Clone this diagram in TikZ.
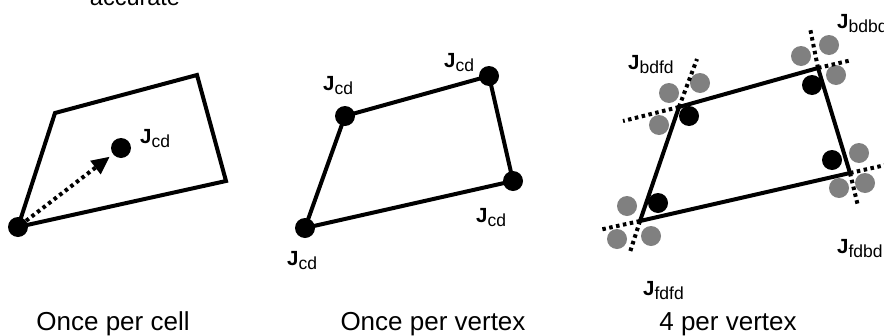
\documentclass[tikz,border=0pt]{standalone}
\usepackage{fontspec}
\setmainfont{Liberation Sans}
\usetikzlibrary{arrows.meta}
\newcommand\Jlab[1]{{\fontsize{20.5}{20.5}\selectfont\bfseries J}\raisebox{-4pt}{\fontsize{17.5}{17.5}\selectfont #1}}
\definecolor{dotgray}{RGB}{128,128,128}
\tikzset{
  bdot/.style={circle,fill=black,minimum size=20pt,inner sep=0pt},
  gdot/.style={circle,fill=dotgray,minimum size=20pt,inner sep=0pt},
  edge/.style={line width=4pt,line join=miter},
  dotline/.style={line width=4pt,dash pattern=on 3.5pt off 3.5pt},
  jlab/.style={anchor=base west,inner sep=0pt},
  caption/.style={anchor=base,inner sep=0pt,font=\fontsize{26}{26}\selectfont},
}
\begin{document}
\begin{tikzpicture}[x=1pt,y=-1pt]
\useasboundingbox (0,0) rectangle (884,335);

% ---------- panel 1 ----------
\node[anchor=base,inner sep=0pt,font=\fontsize{23.5}{23.5}\selectfont] (acc) at (135,5) {accurate};
\coordinate (a1) at (18,227);
\coordinate (a2) at (55,113);
\coordinate (a3) at (197,75);
\coordinate (a4) at (226,181);
\draw[edge] (a1) -- (a2) -- (a3) -- (a4) -- cycle;
\node[bdot] (a1d) at (a1) {};
\node[bdot] (ac) at (121,148) {};
\draw[dotline,-{Triangle[length=18pt,width=16pt]},shorten >=4pt] (a1d) -- (ac);
\node[jlab] (acl) at (140,143) {\Jlab{cd}};
\node[caption] (cap1) at (113,330) {Once per cell};

% ---------- panel 2 ----------
\coordinate (b1) at (305,228);
\coordinate (b2) at (345,116);
\coordinate (b3) at (489,76);
\coordinate (b4) at (513,181);
\draw[edge] (b1) -- (b2) -- (b3) -- (b4) -- cycle;
\node[bdot] (b1d) at (b1) {};
\node[bdot] (b2d) at (b2) {};
\node[bdot] (b3d) at (b3) {};
\node[bdot] (b4d) at (b4) {};
\node[jlab] (b1l) at (287,265) {\Jlab{cd}};
\node[jlab] (b2l) at (323,90) {\Jlab{cd}};
\node[jlab] (b3l) at (444,67) {\Jlab{cd}};
\node[jlab] (b4l) at (476,222) {\Jlab{cd}};
\node[caption] (cap2) at (433,330) {Once per vertex};

% ---------- panel 3 ----------
\coordinate (c1) at (640,221);
\coordinate (c2) at (679,107);
\coordinate (c3) at (818,68);
\coordinate (c4) at (850,173);
% gray dots
\node[gdot] (g1a) at (627,206) {};
\node[gdot] (g1b) at (617,239) {};
\node[gdot] (g1c) at (651,236) {};
\node[gdot] (g2a) at (669,93) {};
\node[gdot] (g2b) at (700,83) {};
\node[gdot] (g2c) at (659,125) {};
\node[gdot] (g3a) at (801,56) {};
\node[gdot] (g3b) at (829,45) {};
\node[gdot] (g3c) at (836,75) {};
\node[gdot] (g4a) at (859,153) {};
\node[gdot] (g4b) at (839,188) {};
\node[gdot] (g4c) at (865,183) {};
% dotted extensions
\coordinate (e1a) at (599,230);
\coordinate (e1b) at (630,252);
\coordinate (e2a) at (623,121);
\coordinate (e2b) at (697,59);
\coordinate (e3a) at (810,28);
\coordinate (e3b) at (852,60);
\coordinate (e4a) at (890,164);
\coordinate (e4b) at (858,206);
\draw[dotline] (c1) -- (e1a);
\draw[dotline] (c1) -- (e1b);
\draw[dotline] (c2) -- (e2a);
\draw[dotline] (c2) -- (e2b);
\draw[dotline] (c3) -- (e3a);
\draw[dotline] (c3) -- (e3b);
\draw[dotline] (c4) -- (e4a);
\draw[dotline] (c4) -- (e4b);
\draw[edge] (c1) -- (c2) -- (c3) -- (c4) -- cycle;
% black dots
\node[bdot] (k1) at (658,203) {};
\node[bdot] (k2) at (689,116) {};
\node[bdot] (k3) at (812,85) {};
\node[bdot] (k4) at (832,160) {};
\node[jlab] (l2) at (628,69) {\Jlab{bdfd}};
\node[jlab] (l3) at (837,28) {\Jlab{bdbd}};
\node[jlab] (l4) at (837,253) {\Jlab{fdbd}};
\node[jlab] (l1) at (643,295) {\Jlab{fdfd}};
\node[caption] (cap3) at (728,330) {4 per vertex};
\end{tikzpicture}
\end{document}
